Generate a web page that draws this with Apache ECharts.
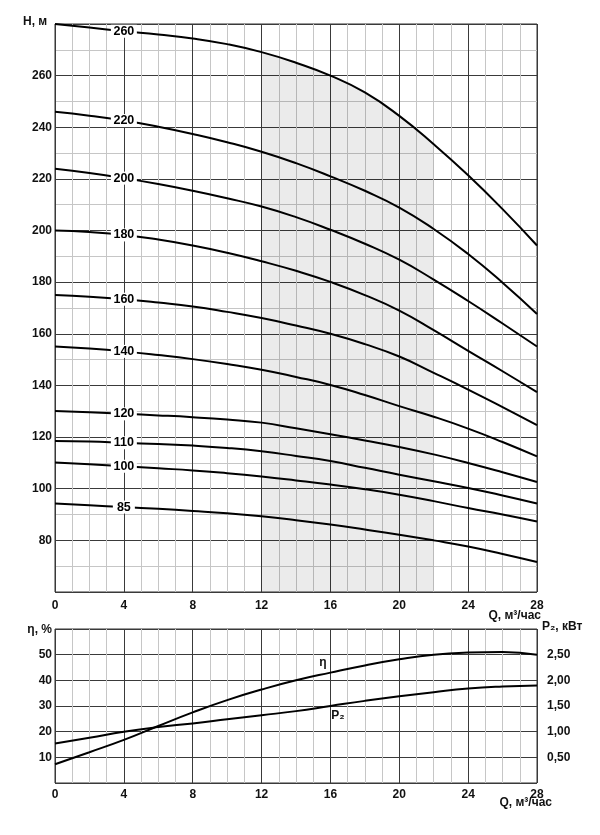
<!DOCTYPE html>
<html><head><meta charset="utf-8">
<script src="https://cdn.jsdelivr.net/npm/echarts@6/dist/echarts.min.js"></script>
<style>html,body{margin:0;padding:0;background:#fff}#c{width:600px;height:835px}</style>
</head><body><div id="c"></div>
<script>
// ---- data ----
const Q = [0, 2, 4, 6, 8, 10, 12, 14, 16, 18, 20, 22, 24, 26, 28];
const curveNames = ['260', '220', '200', '180', '160', '140', '120', '110', '100', '85'];
const H260 = [280, 278.6, 277.2, 275.9, 274.4, 272.2, 269.1, 265, 260, 253.5, 244.4, 233.4, 221.4, 208.3, 194.2];
const H220 = [246, 244.5, 242.6, 240.2, 237.4, 234.2, 230.5, 226.1, 221, 215.4, 208.9, 200.6, 190.9, 179.8, 167.7];
const H200 = [223.9, 222.3, 220.3, 218, 215.4, 212.5, 209.3, 205.2, 200.3, 194.9, 188.7, 181, 172.7, 164, 155.1];
const H180 = [200, 199.4, 198.3, 196.5, 194.2, 191.4, 188.1, 184.4, 180.1, 175, 169, 161.4, 153.4, 145.5, 137.4];
const H160 = [175, 174.4, 173.4, 172.1, 170.6, 168.5, 166.1, 163.2, 160, 156, 151.2, 144.9, 138.4, 131.6, 124.6];
const H140 = [155.1, 154.3, 153.2, 151.8, 150.2, 148.3, 146.1, 143.3, 140.2, 136.3, 132, 127.9, 123.3, 118.1, 112.5];
const H120 = [130.1, 129.6, 129, 128.4, 127.7, 126.8, 125.6, 123.4, 121.1, 118.7, 116.2, 113.3, 110, 106.4, 102.6];
const H110 = [118.5, 118.3, 117.8, 117.3, 116.7, 115.8, 114.5, 112.7, 110.7, 108.1, 105.4, 102.9, 100.3, 97.4, 94.3];
const H100 = [110.2, 109.5, 108.7, 107.9, 107.1, 106, 104.7, 103.2, 101.6, 99.8, 97.7, 95.2, 92.5, 90, 87.3];
const H85 = [94.3, 93.6, 92.9, 92.2, 91.4, 90.5, 89.3, 87.8, 86.1, 84.2, 82.2, 80, 77.6, 74.7, 71.6];
const curves = [H260, H220, H200, H180, H160, H140, H120, H110, H100, H85];
const labelQ = 4;
const shadeFrom = 12, shadeTo = 22;

const eta = [7.3, 12, 16.8, 22.2, 27.5, 32.3, 36.4, 40, 43, 45.8, 48.2, 50, 50.8, 51, 50];
const P2 = [0.77, 0.88, 1.0, 1.09, 1.16, 1.24, 1.32, 1.40, 1.50, 1.60, 1.69, 1.77, 1.84, 1.88, 1.90];

// ---- chart ----
const FONT = "'Liberation Sans', Arial, sans-serif";
const MAJOR = '#3a3a3a', MINOR = '#c6c6c6';
const SMOOTH = 0.5;
const lbl = {fontFamily: FONT, fontSize: 12, fontWeight: 'bold', color: '#111'};
const chart = echarts.init(document.getElementById('c'), null, {renderer: 'canvas'});

function xAxis(gi, margin) {
  return {
    gridIndex: gi, type: 'value', min: 0, max: 28, interval: 4,
    axisLine: {show: false}, axisTick: {show: false},
    axisLabel: Object.assign({margin: margin}, lbl),
    splitLine: {show: true, lineStyle: {color: MAJOR, width: 1}},
    minorTick: {show: false, splitNumber: 4},
    minorSplitLine: {show: true, lineStyle: {color: MINOR, width: 1}}
  };
}

const series = [];
// shaded working range under the top curve
const shadeData = Q.map((q, i) => [q, H260[i]]).filter(p => p[0] >= shadeFrom && p[0] <= shadeTo);
series.push({
  type: 'line', xAxisIndex: 0, yAxisIndex: 0, data: shadeData, smooth: SMOOTH,
  symbol: 'none', lineStyle: {width: 0}, silent: true, z: 1,
  areaStyle: {color: 'rgba(0,0,0,0.11)', origin: 'start'}
});
curves.forEach((arr, k) => {
  const name = curveNames[k];
  const li = Q.indexOf(labelQ);
  series.push({
    type: 'line', xAxisIndex: 0, yAxisIndex: 0, name: name,
    data: Q.map((q, i) => [q, arr[i]]), smooth: SMOOTH, symbol: 'none',
    lineStyle: {color: '#000', width: 2}, z: 3,
    markPoint: {
      symbol: 'rect', symbolSize: [name.length > 2 ? 26 : 22, 13],
      itemStyle: {color: '#fff'},
      label: Object.assign({show: true, position: 'inside', formatter: name}, lbl, {color: '#000', fontSize: 12.5}),
      data: [{coord: [labelQ, arr[li]]}]
    }
  });
});
series.push({
  type: 'line', xAxisIndex: 1, yAxisIndex: 1, name: 'eta',
  data: Q.map((q, i) => [q, eta[i]]), smooth: SMOOTH, symbol: 'none',
  lineStyle: {color: '#000', width: 2}, z: 3
});
series.push({
  type: 'line', xAxisIndex: 1, yAxisIndex: 2, name: 'P2',
  data: Q.map((q, i) => [q, P2[i]]), smooth: SMOOTH, symbol: 'none',
  lineStyle: {color: '#000', width: 2}, z: 3
});

const txt = (text, x, y, align) => ({
  type: 'text', x: x, y: y, z: 10,
  style: {text: text, fill: '#111', font: 'bold 12px ' + FONT, align: align || 'left', verticalAlign: 'middle'}
});

chart.setOption({
  animation: false,
  backgroundColor: '#fff',
  grid: [
    {left: 55, top: 24, width: 482, height: 568, show: true, borderColor: '#333', borderWidth: 1},
    {left: 55, top: 629, width: 482, height: 154, show: true, borderColor: '#333', borderWidth: 1}
  ],
  xAxis: [xAxis(0, 8), xAxis(1, 6)],
  yAxis: [
    {gridIndex: 0, type: 'value', min: 60, max: 280, interval: 20,
     axisLine: {show: false}, axisTick: {show: false},
     axisLabel: Object.assign({margin: 3, formatter: v => (v === 60 || v === 280) ? '' : String(v)}, lbl),
     splitLine: {show: true, lineStyle: {color: MAJOR, width: 1}},
     minorTick: {show: false, splitNumber: 2},
     minorSplitLine: {show: true, lineStyle: {color: MINOR, width: 1}}},
    {gridIndex: 1, type: 'value', min: 0, max: 60, interval: 10,
     axisLine: {show: false}, axisTick: {show: false},
     axisLabel: Object.assign({margin: 3, formatter: v => (v === 0 || v === 60) ? '' : String(v)}, lbl),
     splitLine: {show: true, lineStyle: {color: MAJOR, width: 1}}},
    {gridIndex: 1, type: 'value', position: 'right', min: 0, max: 3, interval: 0.5,
     axisLine: {show: false}, axisTick: {show: false},
     axisLabel: Object.assign({margin: 10, formatter: v => (v === 0 || v === 3) ? '' : v.toFixed(2).replace('.', ',')}, lbl),
     splitLine: {show: false}}
  ],
  series: series,
  graphic: [
    txt('H, м', 23, 22),
    txt('Q, м³/час', 541, 616, 'right'),
    txt('η, %', 52, 630, 'right'),
    txt('P₂, кВт', 542, 627),
    txt('Q, м³/час', 552, 803, 'right'),
    txt('η', 323, 663, 'center'),
    txt('P₂', 338, 716, 'center')
  ]
});
</script></body></html>
